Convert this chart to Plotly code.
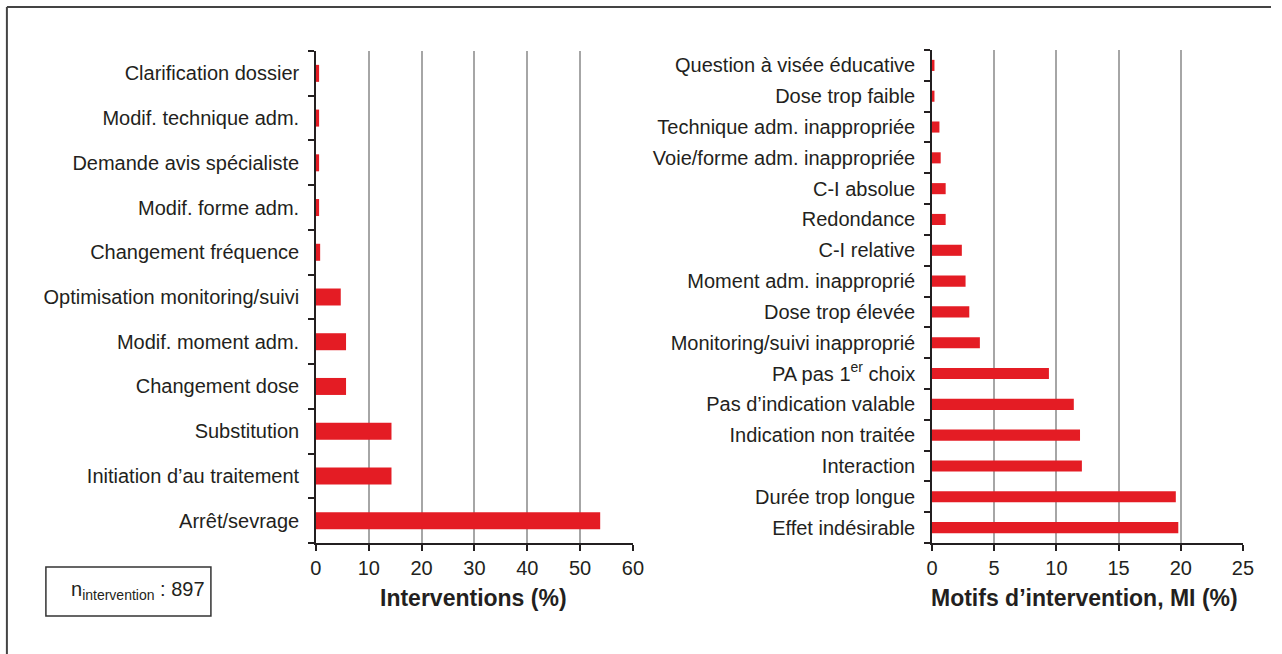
import plotly.graph_objects as go

W, H = 1282, 654

# Left panel data (top to bottom as in picture)
left_categories = [
    "Clarification dossier",
    "Modif. technique adm.",
    "Demande avis spécialiste",
    "Modif. forme adm.",
    "Changement fréquence",
    "Optimisation monitoring/suivi",
    "Modif. moment adm.",
    "Changement dose",
    "Substitution",
    "Initiation d’au traitement",
    "Arrêt/sevrage",
]
left_values = [0.6, 0.6, 0.6, 0.6, 0.8, 4.7, 5.7, 5.7, 14.3, 14.3, 53.8]

# Right panel data (top to bottom)
right_categories = [
    "Question à visée éducative",
    "Dose trop faible",
    "Technique adm. inappropriée",
    "Voie/forme adm. inappropriée",
    "C-I absolue",
    "Redondance",
    "C-I relative",
    "Moment adm. inapproprié",
    "Dose trop élevée",
    "Monitoring/suivi inapproprié",
    "PA pas 1<sup>er</sup> choix",
    "Pas d’indication valable",
    "Indication non traitée",
    "Interaction",
    "Durée trop longue",
    "Effet indésirable",
]
right_values = [0.2, 0.2, 0.6, 0.7, 1.1, 1.1, 2.4, 2.7, 3.0, 3.85,
                9.4, 11.4, 11.9, 12.05, 19.6, 19.8]

left_ticks = [0, 10, 20, 30, 40, 50, 60]
right_ticks = [0, 5, 10, 15, 20, 25]

RED = "#e41c24"
TXT = "#231f20"
FONT = "Liberation Sans"
FS = 20


def px_x(p):
    # horizontal pixel -> paper fraction (calibrated to the rendered page)
    return max(0.0, (p - 6.1) / 1264.9)


def px_y(p):
    return 1 - p / H


fig = go.Figure()
fig.add_trace(go.Bar(
    x=left_values[::-1], y=left_categories[::-1], orientation="h", width=0.38,
    marker=dict(color=RED, line=dict(width=0)), xaxis="x", yaxis="y",
    showlegend=False, hoverinfo="x+y"))
fig.add_trace(go.Bar(
    x=right_values[::-1], y=right_categories[::-1], orientation="h", width=0.36,
    marker=dict(color=RED, line=dict(width=0)), xaxis="x2", yaxis="y2",
    showlegend=False, hoverinfo="x+y"))

common_x = dict(
    showgrid=True, gridcolor="#a6a6a6", gridwidth=1.5,
    showline=True, linecolor=TXT, linewidth=1.5,
    ticks="outside", ticklen=6, tickwidth=1.5, tickcolor=TXT,
    tickfont=dict(family=FONT, size=FS, color=TXT),
    zeroline=False, fixedrange=True,
)
common_y = dict(
    type="category", showline=True, linecolor=TXT, linewidth=1.5,
    ticks="outside", ticklen=6, tickwidth=1.5, tickcolor=TXT,
    tickson="boundaries", showgrid=False,
    tickfont=dict(family=FONT, size=FS, color=TXT),
    ticklabelstandoff=11, fixedrange=True,
)

fig.update_layout(
    width=W, height=H, autosize=False,
    margin=dict(l=0, r=0, t=0, b=0),
    paper_bgcolor="white", plot_bgcolor="white",
    xaxis=dict(domain=[px_x(316), px_x(633)], range=[0, 60], tickvals=left_ticks,
               anchor="y", **common_x),
    yaxis=dict(domain=[px_y(543), px_y(51)], anchor="x",
               range=[-0.5, len(left_categories) - 0.5], **common_y),
    xaxis2=dict(domain=[px_x(932), px_x(1243)], range=[0, 25], tickvals=right_ticks,
                anchor="y2", **common_x),
    yaxis2=dict(domain=[px_y(543), px_y(50)], anchor="x2",
                range=[-0.5, len(right_categories) - 0.5], **common_y),
    font=dict(family=FONT, color=TXT),
)

# Axis titles
fig.add_annotation(text="<b>Interventions (%)</b>", x=px_x(474), y=px_y(598),
                   xref="paper", yref="paper", showarrow=False,
                   xanchor="center", yanchor="middle",
                   font=dict(family=FONT, size=23, color=TXT))
fig.add_annotation(text="<b>Motifs d’intervention, MI (%)</b>", x=px_x(1085), y=px_y(598),
                   xref="paper", yref="paper", showarrow=False,
                   xanchor="center", yanchor="middle",
                   font=dict(family=FONT, size=23, color=TXT))

# n box
fig.add_shape(type="rect", xref="paper", yref="paper",
              x0=px_x(46), x1=px_x(211), y0=px_y(616), y1=px_y(567),
              line=dict(color="#333333", width=1.5))
fig.add_annotation(text="n<sub>intervention</sub> : 897", x=px_x(69), y=px_y(590),
                   xref="paper", yref="paper", showarrow=False,
                   xanchor="left", yanchor="middle",
                   font=dict(family=FONT, size=FS, color=TXT))

# outer frame (top and left edges)
fig.add_shape(type="line", xref="paper", yref="paper",
              x0=px_x(7), x1=1.0, y0=px_y(7), y1=px_y(7),
              line=dict(color="#444444", width=2))
fig.add_shape(type="line", xref="paper", yref="paper",
              x0=px_x(7), x1=px_x(7), y0=px_y(7), y1=0,
              line=dict(color="#444444", width=2))

fig.write_html(
    "out.html",
    config={"responsive": False, "displayModeBar": False},
    post_script="document.body.style.margin='0';document.body.style.overflow='hidden';",
)
